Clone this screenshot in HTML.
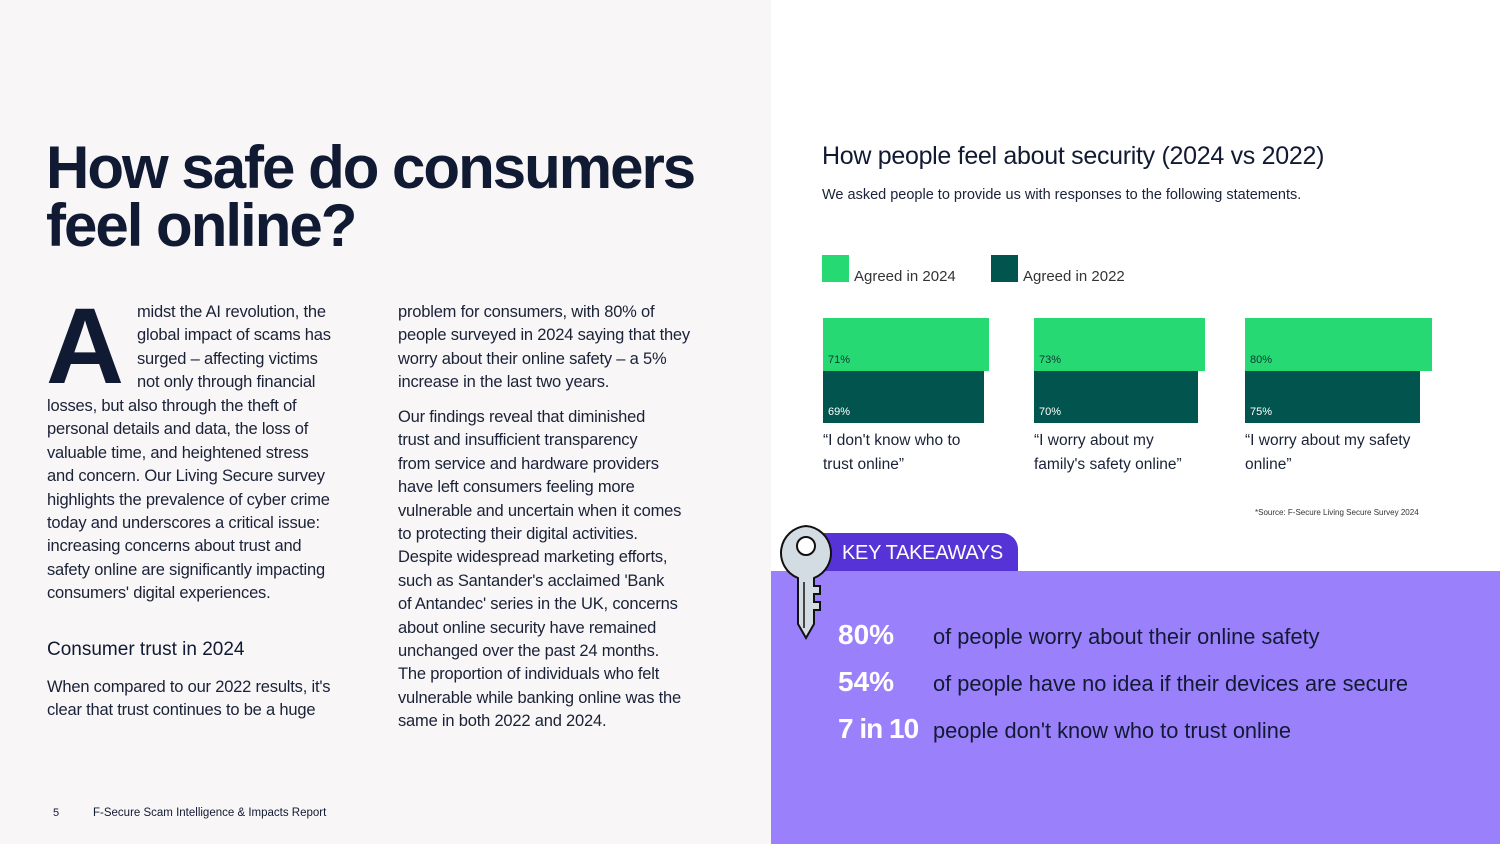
<!DOCTYPE html>
<html><head><meta charset="utf-8"><style>
*{margin:0;padding:0;box-sizing:border-box}
body{width:1500px;height:844px;position:relative;overflow:hidden;background:#fff;font-family:"Liberation Sans",sans-serif;color:#111a33}
.l{position:absolute;left:0;top:0;width:771px;height:844px;background:#f8f6f6}
.a{position:absolute;white-space:nowrap}
.b{font-size:16.5px;line-height:23.4px;color:#1a2238;letter-spacing:-0.2px}
.bar{position:absolute}
.g{background:#27d973}.d{background:#02554f}
.pl{position:absolute;font-size:11px}
.q{font-size:15.5px;line-height:23.5px;color:#1a2238}
</style></head><body>
<div class="l"></div>
<div class="a" style="left:46px;top:139px;font-size:60px;font-weight:bold;line-height:58px;letter-spacing:-2px;color:#111a33">How safe do consumers<br>feel online?</div>
<div class="a" style="left:46px;top:296px;font-size:108px;font-weight:bold;line-height:100px;color:#111a33">A</div>
<div class="a b" style="left:137px;top:301px">midst the AI revolution, the<br>global impact of scams has<br>surged – affecting victims<br>not only through financial</div>
<div class="a b" style="left:47px;top:395px">losses, but also through the theft of<br>personal details and data, the loss of<br>valuable time, and heightened stress<br>and concern. Our Living Secure survey<br>highlights the prevalence of cyber crime<br>today and underscores a critical issue:<br>increasing concerns about trust and<br>safety online are significantly impacting<br>consumers' digital experiences.</div>
<div class="a" style="left:47px;top:639px;font-size:19px;color:#111a33">Consumer trust in 2024</div>
<div class="a b" style="left:47px;top:676px">When compared to our 2022 results, it's<br>clear that trust continues to be a huge</div>
<div class="a b" style="left:398px;top:301px">problem for consumers, with 80% of<br>people surveyed in 2024 saying that they<br>worry about their online safety – a 5%<br>increase in the last two years.</div>
<div class="a b" style="left:398px;top:406px">Our findings reveal that diminished<br>trust and insufficient transparency<br>from service and hardware providers<br>have left consumers feeling more<br>vulnerable and uncertain when it comes<br>to protecting their digital activities.<br>Despite widespread marketing efforts,<br>such as Santander's acclaimed 'Bank<br>of Antandec' series in the UK, concerns<br>about online security have remained<br>unchanged over the past 24 months.<br>The proportion of individuals who felt<br>vulnerable while banking online was the<br>same in both 2022 and 2024.</div>
<div class="a" style="left:53px;top:807px;font-size:11px">5</div>
<div class="a" style="left:93px;top:807px;font-size:11.5px">F-Secure Scam Intelligence &amp; Impacts Report</div>

<div class="a" style="left:822px;top:142px;font-size:25px;color:#111a33;letter-spacing:-0.3px">How people feel about security (2024 vs 2022)</div>
<div class="a" style="left:822px;top:187px;font-size:14.5px;color:#1a2238">We asked people to provide us with responses to the following statements.</div>
<div class="bar g" style="left:822px;top:255px;width:27px;height:27px"></div>
<div class="a" style="left:854px;top:268px;font-size:15px;color:#333">Agreed in 2024</div>
<div class="bar d" style="left:991px;top:255px;width:27px;height:27px"></div>
<div class="a" style="left:1023px;top:268px;font-size:15px;color:#333">Agreed in 2022</div>

<div class="bar g" style="left:823px;top:318px;width:166px;height:53px"></div>
<div class="bar d" style="left:823px;top:371px;width:161px;height:52px"></div>
<div class="bar g" style="left:1034px;top:318px;width:171px;height:53px"></div>
<div class="bar d" style="left:1034px;top:371px;width:164px;height:52px"></div>
<div class="bar g" style="left:1245px;top:318px;width:187px;height:53px"></div>
<div class="bar d" style="left:1245px;top:371px;width:175px;height:52px"></div>
<div class="pl" style="left:828px;top:354px;color:#0a3a30">71%</div>
<div class="pl" style="left:1039px;top:354px;color:#0a3a30">73%</div>
<div class="pl" style="left:1250px;top:354px;color:#0a3a30">80%</div>
<div class="pl" style="left:828px;top:406px;color:#fff">69%</div>
<div class="pl" style="left:1039px;top:406px;color:#fff">70%</div>
<div class="pl" style="left:1250px;top:406px;color:#fff">75%</div>
<div class="a q" style="left:823px;top:429px">“I don't know who to<br>trust online”</div>
<div class="a q" style="left:1034px;top:429px">“I worry about my<br>family's safety online”</div>
<div class="a q" style="left:1245px;top:429px">“I worry about my safety<br>online”</div>
<div class="a" style="left:1255px;top:508px;font-size:8px;color:#333">*Source: F-Secure Living Secure Survey 2024</div>

<div class="bar" style="left:771px;top:571px;width:729px;height:273px;background:#9b80fb"></div>
<div class="bar" style="left:800px;top:533px;width:218px;height:38px;background:#5533d6;border-radius:0 16px 0 0"></div>
<div class="a" style="left:842px;top:542px;font-size:20px;color:#fff;letter-spacing:-0.3px">KEY TAKEAWAYS</div>
<svg style="position:absolute;left:776px;top:524px" width="60" height="118" viewBox="0 0 60 118">
<path d="M30 2 A27 27 0 0 1 38 54 L38 62 L44 62 L44 70 L38 70 L38 78 L44 78 L44 86 L38 86 L38 100 L30 114 L22 100 L22 54 A27 27 0 0 1 30 2 Z" fill="#d3dbe3" stroke="#111" stroke-width="2"/>
<circle cx="30" cy="22" r="9" fill="#fff" stroke="#111" stroke-width="2"/>
<line x1="28" y1="58" x2="28" y2="104" stroke="#111" stroke-width="1.5"/>
</svg>
<div class="a" style="left:838px;top:619px;font-size:28px;font-weight:bold;color:#fff">80%</div>
<div class="a" style="left:838px;top:666px;font-size:28px;font-weight:bold;color:#fff">54%</div>
<div class="a" style="left:838px;top:713px;font-size:28px;font-weight:bold;color:#fff;letter-spacing:-1px">7 in 10</div>
<div class="a" style="left:933px;top:624px;font-size:21.8px;color:#111a33">of people worry about their online safety</div>
<div class="a" style="left:933px;top:671px;font-size:21.8px;color:#111a33">of people have no idea if their devices are secure</div>
<div class="a" style="left:933px;top:718px;font-size:21.8px;color:#111a33">people don't know who to trust online</div>
</body></html>
